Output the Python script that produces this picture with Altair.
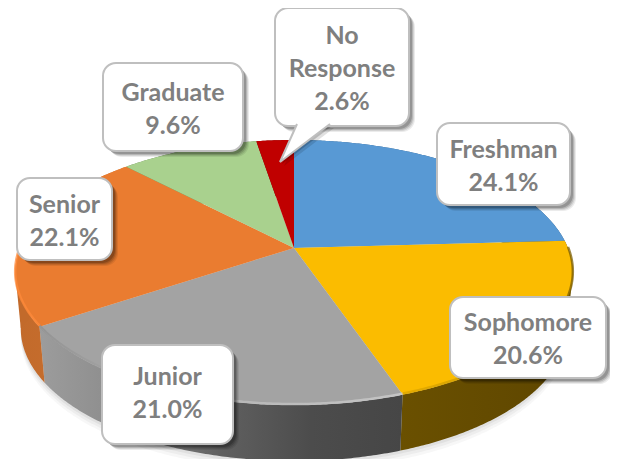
import numpy as np
import pandas as pd
import altair as alt

# ---- chart values (percent, clockwise from 12 o'clock) ----
names = ["Freshman", "Sophomore", "Junior", "Senior", "Graduate", "No Response"]
shares = [24.1, 20.6, 21.0, 22.1, 9.6, 2.6]
top_colors = ["#5899D4", "#FBBC00", "#A3A3A3", "#EA7C30", "#A9D18E", "#C00000"]
wall_stops = [
    ["#2F6090", "#2A5680"],
    ["#6A5000", "#5E4600"],
    ["#9C9C9C", "#8A8A8A", "#606060", "#4C4C4C", "#464646"],
    ["#C26A2B", "#CC7230"],
    ["#64804E", "#64804E"],
    ["#700000", "#700000"],
]
rim_stops = [
    ["#3F76A8", "#3F76A8"],
    ["#DDA600", "#C89800", "#7A5C00"],
    ["#8F8F8F", "#BDBDBD", "#CFCFCF"],
    ["#FF8A3A", "#FF8A3A"],
    ["#BFE0A8", "#BFE0A8"],
    ["#D03030", "#D03030"],
]

# ---- layout of the callouts: left, right, top, bottom ----
callout_boxes = {
    "Freshman": (437, 570, 123, 205),
    "Sophomore": (450, 606, 297, 378),
    "Junior": (102, 233, 345, 444),
    "Senior": (17, 112, 178, 260),
    "Graduate": (103, 243, 63, 151),
    "No Response": (275, 409, 8, 126),
}
callout_lines = {
    "Freshman": ["Freshman"],
    "Sophomore": ["Sophomore"],
    "Junior": ["Junior"],
    "Senior": ["Senior"],
    "Graduate": ["Graduate"],
    "No Response": ["No", "Response"],
}
LINE_GAP = 33
pointer = [(297, 124), (280, 162), (330, 124)]

# ---- view of the tilted disc ----
W, H = 602, 451
CX, CY, AX, AY, K, DEPTH, SHRINK = 294, 248, 274, 128, 0.185, 56, 0.98


def project(deg, drop=0.0, shrink=1.0):
    t = np.radians(deg)
    u, v = np.sin(t), np.cos(t)
    w = 1 + K * v
    return CX + shrink * AX * u / w, CY - AY * v / w + drop


def arc(a0, a1, drop=0.0, shrink=1.0):
    d = np.linspace(a0, a1, max(int(abs(a1 - a0) * 2), 4))
    return project(d, drop, shrink)


xs = alt.Scale(domain=[8, 8 + W], nice=False, zero=False)
ys = alt.Scale(domain=[8 + H, 8], nice=False, zero=False)


def poly(px, py, **mk):
    df = pd.DataFrame({"px": px, "py": py, "i": np.arange(len(px))})
    return alt.Chart(df).mark_line(interpolate="linear-closed", clip=True, **mk).encode(
        x=alt.X("px:Q", scale=xs, axis=None),
        y=alt.Y("py:Q", scale=ys, axis=None),
        order="i:Q",
    )


def path(px, py, **mk):
    df = pd.DataFrame({"px": px, "py": py, "i": np.arange(len(px))})
    return alt.Chart(df).mark_line(clip=True, **mk).encode(
        x=alt.X("px:Q", scale=xs, axis=None),
        y=alt.Y("py:Q", scale=ys, axis=None),
        order="i:Q",
    )


def rect(box, dx=0, dy=0, **mk):
    l, r, t, b = box
    df = pd.DataFrame({"l": [l + dx], "r": [r + dx], "t": [t + dy], "b": [b + dy]})
    return alt.Chart(df).mark_rect(clip=True, **mk).encode(
        x=alt.X("l:Q", scale=xs, axis=None),
        x2="r:Q",
        y=alt.Y("t:Q", scale=ys, axis=None),
        y2="b:Q",
    )


def grad(stops):
    n = len(stops) - 1
    return alt.LinearGradient(
        gradient="linear", x1=0, x2=1, y1=0, y2=0,
        stops=[alt.GradientStop(offset=i / n, color=c) for i, c in enumerate(stops)],
    )


layers = []
edges = np.cumsum([0] + shares) / sum(shares) * 360

# soft ground shadow
for grow, op in [(9, 0.03), (6, 0.04), (3, 0.05)]:
    sx, sy = arc(0, 360, DEPTH + grow, SHRINK)
    layers.append(poly(sx, sy, fill="#000000", fillOpacity=op, strokeOpacity=0))

# side walls
for i in range(len(names)):
    tx, ty = arc(edges[i], edges[i + 1])
    bx, by = arc(edges[i], edges[i + 1], DEPTH, SHRINK)
    layers.append(
        poly(np.r_[tx, bx[::-1]], np.r_[ty, by[::-1]], fill=grad(wall_stops[i]), strokeOpacity=0)
    )

# tangent pieces joining the upper and lower outlines at the far left and right
sweep = np.arange(0, 360, 0.5)
for pick, idx in [(np.argmin, 3), (np.argmax, 1)]:
    tx, ty = project(sweep)
    bx, by = project(sweep, DEPTH, SHRINK)
    a, b = pick(tx), pick(bx)
    inner = 0.9 * (tx[a] - CX) + CX
    layers.append(
        poly([tx[a], bx[b], inner], [ty[a], by[b], (ty[a] + by[b]) / 2],
             fill=wall_stops[idx][0], strokeOpacity=0)
    )

# top faces
for i in range(len(names)):
    ax, ay = arc(edges[i], edges[i + 1])
    layers.append(poly(np.r_[CX, ax], np.r_[CY, ay], fill=top_colors[i], strokeOpacity=0))

# bevel along the front rim
for i in range(len(names)):
    a0, a1 = edges[i], edges[i + 1]
    lo, hi = max(a0, 90), min(a1, 285)
    if hi > lo:
        rx, ry = arc(lo, hi, -1.0)
        layers.append(path(rx, ry, stroke=grad(rim_stops[i]), strokeWidth=2.5, strokeOpacity=0.75))

# callouts
px = [p[0] for p in pointer]
py = [p[1] for p in pointer]
for n in names:
    for off, op in [(6, 0.08), (5, 0.1), (4, 0.14), (3, 0.18)]:
        layers.append(rect(callout_boxes[n], off, off, cornerRadius=13, fill="#000000", fillOpacity=op))
    if n == "No Response":
        for off, op in [(4, 0.12), (2, 0.18)]:
            layers.append(poly([x + off for x in px], [y + off for y in py],
                               fill="#000000", fillOpacity=op, strokeOpacity=0))
    layers.append(rect(callout_boxes[n], cornerRadius=13, fill="#FFFFFF", stroke="#BFBFBF", strokeWidth=2))
    if n == "No Response":
        layers.append(poly(px, py, fill="#FFFFFF", strokeOpacity=0))
        layers.append(path(px, py, stroke="#BFBFBF", strokeWidth=2))

rows = []
for n, s in zip(names, shares):
    l, r, t, b = callout_boxes[n]
    lines = callout_lines[n] + [f"{s:.1f}%"]
    mid = (t + b) / 2 + 2 - (3 if n == "Junior" else 0)
    for j, line in enumerate(lines):
        rows.append({"tx": (l + r) / 2, "ty": mid + (j - (len(lines) - 1) / 2) * LINE_GAP, "txt": line})

text = alt.Chart(pd.DataFrame(rows)).mark_text(
    font="Lato", fontWeight="bold", fontSize=25, color="#7F7F7F", baseline="middle", align="center"
).encode(
    x=alt.X("tx:Q", scale=xs, axis=None),
    y=alt.Y("ty:Q", scale=ys, axis=None),
    text="txt:N",
)
layers.append(text)

chart = alt.layer(*layers).properties(width=W, height=H, padding=0, background="#FFFFFF").configure_view(stroke=None)
chart.save("out.html", embed_options={"renderer": "svg", "actions": False})
